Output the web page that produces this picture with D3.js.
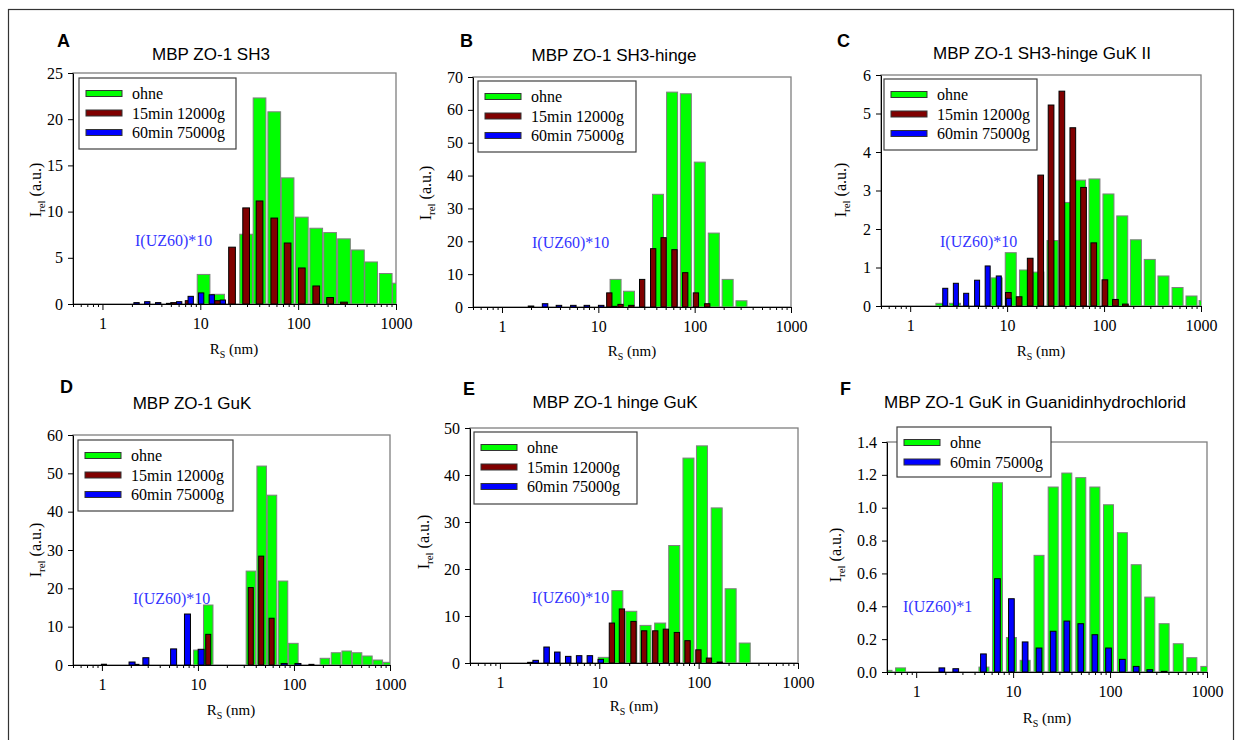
<!DOCTYPE html>
<html>
<head>
<meta charset="utf-8">
<script src="https://cdn.jsdelivr.net/npm/d3@7"></script>
<style>
  body { margin: 0; background: #fff; }
</style>
</head>
<body>
<svg id="fig" width="1237" height="740"></svg>
<script>
// series names used in the legends
const seriesNames = ["ohne", "15min 12000g", "60min 75000g"];
const xLabelTicks = [1, 10, 100, 1000];

// A  MBP ZO-1 SH3
const aOhneRs = [10.8, 15.2, 29.4, 40.3, 57, 78, 109, 153, 212, 294, 408, 557, 785, 1070];
const aOhne   = [3.2, 1.05, 7.55, 22.3, 20.8, 13.65, 9.4, 8.2, 7.73, 7.05, 5.85, 4.55, 3.3, 2.25];
const a15Rs   = [5.4, 7.6, 15.2, 21.1, 29.4, 40.3, 57, 78, 109, 153, 212, 294];
const a15     = [0.15, 0.36, 0.36, 6.15, 10.4, 11.15, 9.3, 6.6, 3.9, 1.95, 0.7, 0.2];
const a60Rs   = [2.23, 2.87, 3.71, 4.8, 6.08, 7.98, 10.2, 13.1, 17.0];
const a60     = [0.15, 0.25, 0.15, 0.07, 0.25, 0.83, 1.2, 1.0, 0.43];

// B  MBP ZO-1 SH3-hinge
const bOhneRs = [15.1, 20.8, 41.6, 58.3, 81, 113, 158, 220, 306];
const bOhne   = [8.4, 4.8, 34.3, 65.4, 64.9, 44.1, 22.5, 8.4, 1.9];
const b15Rs   = [13.0, 17.0, 22.0, 28.5, 37.1, 47.6, 61.7, 79.8, 103, 135];
const b15     = [4.3, 0.8, 0.5, 8.4, 17.75, 21.1, 17.45, 10.45, 4.3, 1.0];
const b60Rs   = [2.0, 2.8, 3.9, 5.5, 7.6, 10.7, 14.6];
const b60     = [0.3, 1.0, 0.5, 0.5, 0.5, 0.5, 0.2];

// C  MBP ZO-1 SH3-hinge GuK II
const cOhneRs = [2.1, 2.9, 7.8, 10.9, 15.3, 21.0, 29.4, 41.3, 56.6, 79.6, 111, 154, 213, 296, 410, 573, 798, 1090];
const cOhne   = [0.07, 0.07, 0.73, 1.385, 0.935, 0.88, 1.7, 2.69, 3.27, 3.3, 2.91, 2.34, 1.72, 1.21, 0.78, 0.48, 0.26, 0.14];
const c15Rs   = [10.3, 13.3, 17.3, 22.2, 28.4, 36.7, 47.6, 61.4, 78.3, 102, 131, 166];
const c15     = [0.35, 0.24, 1.24, 3.4, 5.22, 5.58, 4.63, 3.08, 1.64, 0.68, 0.17, 0.05];
const c60Rs   = [2.30, 2.96, 3.78, 4.9, 6.3, 8.2, 10.4];
const c60     = [0.46, 0.59, 0.33, 0.67, 1.04, 0.78, 0.2];

// D  MBP ZO-1 GuK
const dOhneRs = [10.1, 12.8, 35.6, 46.1, 59, 76.9, 98.6, 210, 274, 354, 454, 582, 747, 957];
const dOhne   = [3.9, 15.65, 24.5, 51.9, 44.3, 21.9, 5.65, 1.75, 3.2, 3.65, 3.2, 2.35, 1.3, 0.7];
const d15Rs   = [1.05, 2.29, 12.8, 35.5, 45.6, 58.5, 152];
const d15     = [0.2, 0.17, 8.0, 20.2, 28.4, 12.2, 0.17];
const d60Rs   = [2.06, 2.87, 5.58, 7.78, 10.8, 79, 110];
const d60     = [0.78, 1.9, 4.2, 13.3, 4.1, 0.4, 0.4];

// E  MBP ZO-1 hinge GuK
const eOhneRs = [11.1, 15.2, 21.0, 29.2, 41, 56.8, 79, 108, 152, 210, 291];
const eOhne   = [1.2, 15.4, 11.0, 8.0, 8.5, 25.0, 43.6, 46.2, 33.0, 15.8, 4.25];
const e15Rs   = [2.02, 13.4, 16.9, 22.1, 28.3, 36.6, 46.8, 60.4, 77.3, 99.5, 127, 163];
const e15     = [0.14, 8.5, 11.5, 8.85, 6.85, 6.85, 7.2, 6.5, 4.75, 2.8, 1.05, 0.2];
const e60Rs   = [2.29, 2.95, 3.78, 4.87, 6.27, 8.04, 10.35];
const e60     = [0.57, 3.4, 2.33, 1.41, 1.56, 1.56, 0.78];

// F  MBP ZO-1 GuK in Guanidinhydrochlorid
const fOhneRs = [0.5, 0.69, 5.0, 6.9, 9.6, 13.3, 18.5, 25.9, 35.8, 49.9, 69.7, 96.4, 134, 186, 257, 361, 505, 698, 973];
const fOhne   = [0.01, 0.025, 0.03, 1.152, 0.21, 0.071, 0.71, 1.126, 1.211, 1.183, 1.126, 1.018, 0.848, 0.653, 0.456, 0.294, 0.172, 0.087, 0.034];
const f60Rs   = [1.84, 2.56, 4.94, 6.89, 9.6, 13.3, 18.5, 25.9, 35.8, 49.9, 69.7, 96.4, 134, 186, 257, 361];
const f60     = [0.025, 0.02, 0.11, 0.568, 0.446, 0.183, 0.146, 0.248, 0.31, 0.294, 0.227, 0.146, 0.077, 0.034, 0.014, 0.004];

const SERIF = "'Liberation Serif', 'Times New Roman', serif";
const SANS = "'Liberation Sans', Arial, sans-serif";

const style = {
  ohne: {fill: "#00ff00", stroke: "#7f7f7f"},
  s15:  {fill: "#800000", stroke: "#000"},
  s60:  {fill: "#0000ff", stroke: "#000"}
};

const panels = [
  {letter: "A", title: "MBP ZO-1 SH3", box: [73, 396, 73, 304], yMax: 25, yStep: 5, fmt: "d",
   series: [["ohne", aOhneRs, aOhne, 12.7], ["s15", a15Rs, a15, 6.7], ["s60", a60Rs, a60, 5.3]],
   legend: [79, 78, 157, 71], note: [135, 240, "I(UZ60)*10"], letterXY: [57, 47], titleXY: [211, 54],
   yLab: [35, 190], xLab: [234, 349]},
  {letter: "B", title: "MBP ZO-1 SH3-hinge", box: [473, 791, 77, 307], yMax: 70, yStep: 10, fmt: "d",
   series: [["ohne", bOhneRs, bOhne, 11], ["s15", b15Rs, b15, 5.3], ["s60", b60Rs, b60, 5.5]],
   legend: [478, 81, 158, 71], note: [532, 242, "I(UZ60)*10"], letterXY: [460, 47], titleXY: [614, 55],
   yLab: [425, 193], xLab: [632, 351]},
  {letter: "C", title: "MBP ZO-1 SH3-hinge GuK II", box: [881, 1201, 75, 306], yMax: 6, yStep: 1, fmt: "d",
   series: [["ohne", cOhneRs, cOhne, 11], ["s15", c15Rs, c15, 5.7], ["s60", c60Rs, c60, 5]],
   legend: [884, 79, 153, 71], note: [940, 241, "I(UZ60)*10"], letterXY: [837, 47], titleXY: [1042, 53],
   yLab: [840, 190], xLab: [1041, 351]},
  {letter: "D", title: "MBP ZO-1 GuK", box: [73, 390, 435, 665], yMax: 60, yStep: 10, fmt: "d",
   series: [["ohne", dOhneRs, dOhne, 9.5], ["s15", d15Rs, d15, 5], ["s60", d60Rs, d60, 6]],
   legend: [78, 440, 155, 71], note: [133, 598, "I(UZ60)*10"], letterXY: [60, 393], titleXY: [192, 403],
   yLab: [35, 550], xLab: [231, 710]},
  {letter: "E", title: "MBP ZO-1 hinge GuK", box: [470, 798, 428, 663], yMax: 50, yStep: 10, fmt: "d",
   series: [["ohne", eOhneRs, eOhne, 11], ["s15", e15Rs, e15, 5.3], ["s60", e60Rs, e60, 5.5]],
   legend: [474, 432, 163, 72], note: [532, 597, "I(UZ60)*10"], letterXY: [463, 395], titleXY: [615, 402],
   yLab: [423, 542], xLab: [634, 706]},
  {letter: "F", title: "MBP ZO-1 GuK in Guanidinhydrochlorid", box: [887, 1207, 442, 672], yMax: 1.4, yStep: 0.2, fmt: ".1f",
   series: [["ohne", fOhneRs, fOhne, 10], ["s60", f60Rs, f60, 5.7]],
   legend: [897, 427, 154, 50], note: [903, 606, "I(UZ60)*1"], letterXY: [840, 395], titleXY: [1035, 402],
   yLab: [835, 555], xLab: [1047, 718]}
];

const svg = d3.select("#fig");
svg.append("rect").attr("width", 1237).attr("height", 740).attr("fill", "#fff");
svg.append("rect")
  .attr("x", 8.5).attr("y", 9.5).attr("width", 1225).attr("height", 760)
  .attr("fill", "none").attr("stroke", "#333").attr("stroke-width", 1.2);

panels.forEach(drawPanel);

function isDecade(d) {
  return xLabelTicks.some(t => Math.abs(t - d) < 1e-6);
}

function drawPanel(p) {
  const [x0, x1, y0, y1] = p.box;
  const x = d3.scaleLog().domain([0.5, 1000]).range([x0, x1]);
  const y = d3.scaleLinear().domain([0, p.yMax]).range([y1, y0]);
  const g = svg.append("g");
  const clipId = "clip" + p.letter;

  g.append("clipPath").attr("id", clipId).append("rect")
    .attr("x", x0).attr("y", y0).attr("width", x1 - x0).attr("height", y1 - y0);

  // plot frame
  g.append("rect")
    .attr("x", x0).attr("y", y0).attr("width", x1 - x0).attr("height", y1 - y0)
    .attr("fill", "none").attr("stroke", "#7f7f7f").attr("stroke-width", 1.3);

  const bars = g.append("g").attr("clip-path", `url(#${clipId})`);
  p.series.forEach(([key, rs, vals, w]) => {
    bars.append("g").selectAll("rect")
      .data(d3.zip(rs, vals))
      .join("rect")
      .attr("x", d => x(d[0]) - w / 2)
      .attr("y", d => y(d[1]))
      .attr("width", w)
      .attr("height", d => y(0) - y(d[1]))
      .attr("fill", style[key].fill)
      .attr("stroke", style[key].stroke)
      .attr("stroke-width", 1);
  });

  // y axis
  const ya = g.append("g")
    .attr("transform", `translate(${x0},0)`)
    .call(d3.axisLeft(y)
      .tickValues(d3.range(0, p.yMax + p.yStep / 2, p.yStep))
      .tickSize(5).tickSizeOuter(0).tickPadding(5)
      .tickFormat(d3.format(p.fmt)));
  ya.selectAll("text").attr("fill", "#000")
    .style("font-family", SERIF).style("font-size", "16px");

  // x axis (log, minor ticks)
  const xa = g.append("g")
    .attr("transform", `translate(0,${y1})`)
    .call(d3.axisBottom(x)
      .tickValues(x.ticks())
      .tickSize(3).tickSizeOuter(0).tickPadding(11)
      .tickFormat(d => isDecade(d) ? d3.format("d")(d) : ""));
  xa.selectAll(".tick line").filter(d => isDecade(d)).attr("y2", 6);
  xa.selectAll("text").attr("fill", "#000")
    .style("font-family", SERIF).style("font-size", "16px");

  // axis titles
  const yl = g.append("text")
    .attr("transform", `translate(${p.yLab[0]},${p.yLab[1]}) rotate(-90)`)
    .attr("text-anchor", "middle").attr("dy", "0.35em")
    .style("font-family", SERIF).style("font-size", "16px");
  yl.append("tspan").text("I");
  yl.append("tspan").style("font-size", "11px").attr("dy", 4).text("rel");
  yl.append("tspan").attr("dy", -4).text(" (a.u.)");

  const xl = g.append("text")
    .attr("x", p.xLab[0]).attr("y", p.xLab[1])
    .attr("text-anchor", "middle").attr("dy", "0.35em")
    .style("font-family", SERIF).style("font-size", "15px");
  xl.append("tspan").text("R");
  xl.append("tspan").style("font-size", "10px").attr("dy", 4).text("S");
  xl.append("tspan").attr("dy", -4).text(" (nm)");

  // title and panel letter
  g.append("text")
    .attr("x", p.titleXY[0]).attr("y", p.titleXY[1]).attr("dy", "0.35em")
    .attr("text-anchor", "middle")
    .style("font-family", SANS).style("font-size", "17px").text(p.title);
  g.append("text")
    .attr("x", p.letterXY[0]).attr("y", p.letterXY[1])
    .style("font-family", SANS).style("font-weight", "bold").style("font-size", "18px")
    .text(p.letter);

  // annotation
  g.append("text")
    .attr("x", p.note[0]).attr("y", p.note[1]).attr("dy", "0.35em")
    .attr("fill", "#3535ff")
    .style("font-family", SERIF).style("font-size", "16px").text(p.note[2]);

  // legend
  const [lx, ly, lw, lh] = p.legend;
  const lg = g.append("g");
  lg.append("rect")
    .attr("x", lx).attr("y", ly).attr("width", lw).attr("height", lh)
    .attr("fill", "#fff").attr("stroke", "#404040").attr("stroke-width", 1.2);
  p.series.forEach(([key], i) => {
    const cy = ly + 15.5 + i * 19.5;
    const name = seriesNames[["ohne", "s15", "s60"].indexOf(key)];
    lg.append("rect")
      .attr("x", lx + 7).attr("y", cy - 3).attr("width", 36).attr("height", 6)
      .attr("fill", style[key].fill).attr("stroke", "#333").attr("stroke-width", 1);
    lg.append("text")
      .attr("x", lx + 53).attr("y", cy).attr("dy", "0.35em").attr("fill", "#000")
      .style("font-family", SERIF).style("font-size", "16px").text(name);
  });
}
</script>
</body>
</html>
